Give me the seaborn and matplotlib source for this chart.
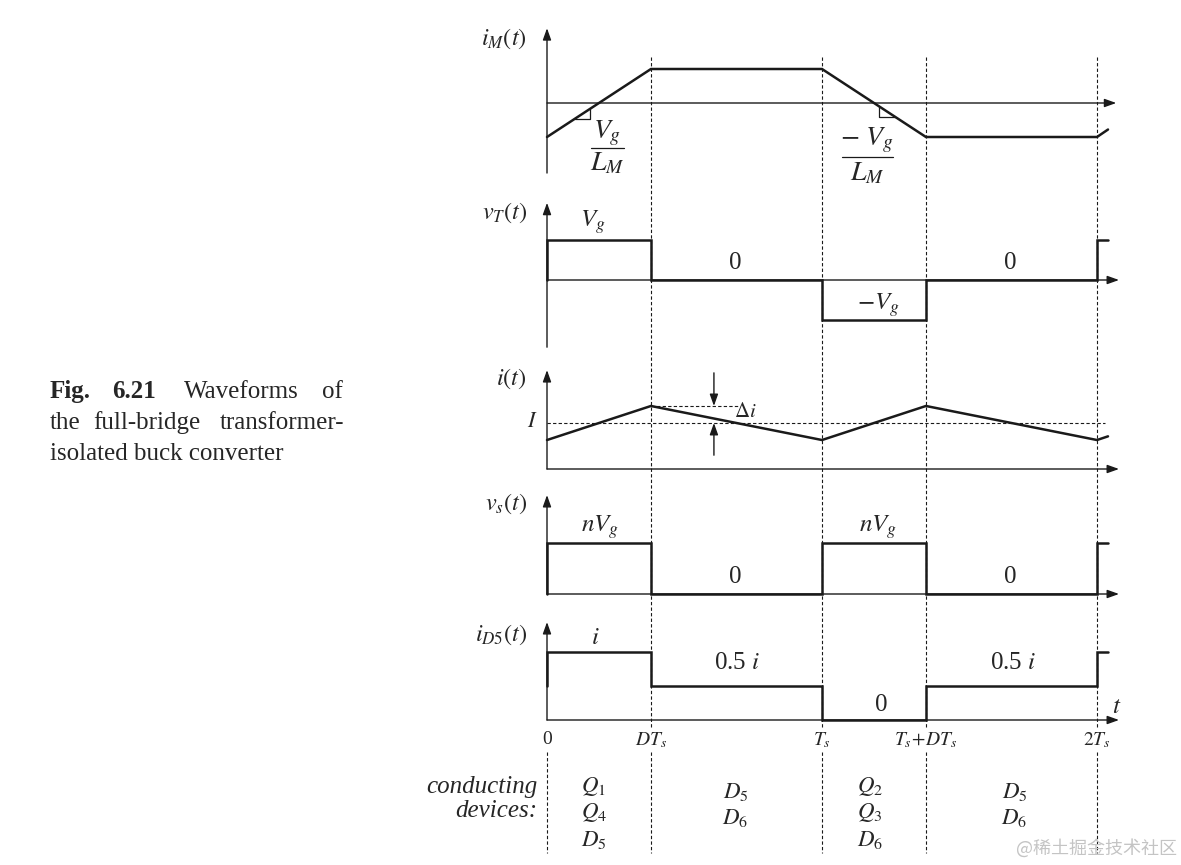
import numpy as np
import matplotlib
matplotlib.use("Agg")
import matplotlib.pyplot as plt
import seaborn as sns

sns.set_theme(style="white")
plt.rcParams['font.family'] = ['Liberation Serif', 'DejaVu Serif']
plt.rcParams['mathtext.fontset'] = 'stix'

# ---- data (time in units of Ts) ----
D = 0.378
t_marks = [0, D, 1, 1 + D, 2]
t_labels = ['0', '$DT_s$', '$T_s$', '$T_s\\!+\\!DT_s$', '$2T_s$']
t_end = 2.04

# magnetizing current i_M(t), corner points
t_im = [0, D, 1, 1 + D, 2, t_end]
im_vals = [-1, 1, 1, -1, -1, -0.78]

# transformer voltage v_T(t), one level per interval
vT_levels = [1, 0, -1, 0, 1]

# inductor current i(t), corner points
t_i = [0, D, 1, 1 + D, 2, t_end]
i_vals = [0.63, 1.37, 0.63, 1.37, 0.63, 0.71]
I_avg = 1.0

# secondary voltage v_s(t)
vs_levels = [1, 0, 1, 0, 1]

# diode current i_D5(t)
iD5_levels = [1, 0.5, 0, 0.5, 1]
iD5_start = 0.5

devices = [['$Q_1$', '$Q_4$', '$D_5$'],
           ['$D_5$', '$D_6$'],
           ['$Q_2$', '$Q_3$', '$D_6$'],
           ['$D_5$', '$D_6$']]
dev_t = [0.17, 0.685, 1.175, 1.70]


def step(levels, start=0.0):
    edges = t_marks + [t_end]
    xs, ys = [0.0], [start]
    for k, lv in enumerate(levels):
        xs += [edges[k], edges[k + 1]]
        ys += [lv, lv]
    return xs, ys


# ---- layout (pixels) ----
W, H = 1181, 865
X0, TS = 547, 275
L_px, R_px = 420, 1160

fig = plt.figure(figsize=(W / 100, H / 100), dpi=100)

# overlay for dashed guides and free text
ov = fig.add_axes([0, 0, 1, 1])
ov.set_xlim(-X0 / TS, (W - X0) / TS)
ov.set_ylim(H, 0)
ov.set_axis_off()

arrow_kw = dict(arrowstyle='-|>,head_length=0.7,head_width=0.25',
                mutation_scale=10, lw=1.0, color='k', shrinkA=0, shrinkB=0)


def panel(top, bot, zero, ppu):
    ax = fig.add_axes([L_px / W, 1 - bot / H, (R_px - L_px) / W, (bot - top) / H])
    ax.set_xlim((L_px - X0) / TS, (R_px - X0) / TS)
    ax.set_ylim((zero - bot) / ppu, (zero - top) / ppu)
    ax.set_axis_off()
    ax.patch.set_alpha(0)
    return ax


def axes_arrows(ax, ybot, ytop, xend=2.08):
    ax.annotate('', xy=(0, ytop), xytext=(0, ybot), arrowprops=arrow_kw, annotation_clip=False)
    ax.annotate('', xy=(xend, 0), xytext=(0, 0), arrowprops=arrow_kw, annotation_clip=False)


def wave(ax, x, y):
    sns.lineplot(x=x, y=y, estimator=None, sort=False, color='k', lw=1.8,
                 solid_joinstyle='miter', ax=ax)


def fraction(ax, tc, t0, t1, y_num, y_bar, y_den, num, den):
    ax.text(tc, y_num, num, fontsize=20, ha='center', va='center')
    ax.plot([t0, t1], [y_bar, y_bar], color='k', lw=0.9)
    ax.text(tc, y_den, den, fontsize=20, ha='center', va='center')


dash = (0, (3, 2))
for t in t_marks[1:]:
    ov.plot([t, t], [57, 728], ls=dash, lw=0.8, color='k')
for t in t_marks:
    ov.plot([t, t], [752, 853], ls=dash, lw=0.8, color='k')

lab_kw = dict(fontsize=17.5, ha='right', va='center')
val_kw = dict(fontsize=18, ha='center', va='center')

# panel 1: i_M(t)
ax1 = panel(15, 185, 103, 34)
axes_arrows(ax1, -2.06, 2.2, xend=2.07)
wave(ax1, t_im, im_vals)
ax1.text(-0.073, 1.88, '$i_M(t)$', **lab_kw)
ta, tb = 0.102, 0.156
ya, yb = np.interp(ta, t_im, im_vals), np.interp(tb, t_im, im_vals)
ax1.plot([ta, tb, tb], [ya, ya, yb], color='k', lw=0.9)
ta, tb = 1.207, 1.265
ya, yb = np.interp(ta, t_im, im_vals), np.interp(tb, t_im, im_vals)
ax1.plot([ta, ta, tb], [ya, yb, yb], color='k', lw=0.9)
fraction(ax1, 0.218, 0.16, 0.28, -0.88, -1.32, -1.78, '$V_g$', '$L_M$')
fraction(ax1, 1.164, 1.073, 1.258, -1.09, -1.59, -2.08, '$-\\ V_g$', '$L_M$')

# panel 2: v_T(t)
ax2 = panel(195, 355, 280, 40)
axes_arrows(ax2, -1.68, 1.93)
x, y = step(vT_levels)
wave(ax2, x, y)
ax2.text(-0.073, 1.68, '$v_T(t)$', **lab_kw)
ax2.text(0.167, 1.45, '$V_g$', **val_kw)
ax2.text(0.684, 0.43, '0', **val_kw)
ax2.text(1.204, -0.62, '$-V_g$', **val_kw)
ax2.text(1.684, 0.43, '0', **val_kw)

# panel 3: i(t)
ax3 = panel(362, 480, 469, 46)
axes_arrows(ax3, 0, 2.15)
ax3.plot([0, 2.03], [I_avg, I_avg], ls=dash, lw=0.8, color='k')
ax3.plot([D, 0.70], [max(i_vals), max(i_vals)], ls=dash, lw=0.8, color='k')
wave(ax3, t_i, i_vals)
ax3.annotate('', xy=(0.607, max(i_vals)), xytext=(0.607, 2.09), arrowprops=arrow_kw)
ax3.annotate('', xy=(0.607, I_avg), xytext=(0.607, 0.30), arrowprops=arrow_kw)
ax3.text(0.68, 1.22, r'$\Delta i$', fontsize=15, ha='left', va='center')
ax3.text(-0.073, 1.96, '$i(t)$', **lab_kw)
ax3.text(-0.035, I_avg, '$I$', fontsize=16, ha='right', va='center')

# panel 4: v_s(t)
ax4 = panel(485, 605, 594, 51)
axes_arrows(ax4, 0, 1.94)
x, y = step(vs_levels)
wave(ax4, x, y)
ax4.text(-0.073, 1.76, '$v_s(t)$', **lab_kw)
ax4.text(0.193, 1.31, '$nV_g$', **val_kw)
ax4.text(1.204, 1.31, '$nV_g$', **val_kw)
ax4.text(0.684, 0.33, '0', **val_kw)
ax4.text(1.684, 0.33, '0', **val_kw)

# panel 5: i_D5(t)
ax5 = panel(612, 760, 720, 68)
axes_arrows(ax5, 0, 1.44)
x, y = step(iD5_levels, iD5_start)
wave(ax5, x, y)
ax5.text(-0.073, 1.25, '$i_{D5}(t)$', **lab_kw)
ax5.text(0.175, 1.21, '$i$', **val_kw)
ax5.text(0.69, 0.84, '0.5 $i$', **val_kw)
ax5.text(1.695, 0.84, '0.5 $i$', **val_kw)
ax5.text(1.215, 0.22, '0', **val_kw)
ax5.text(2.073, 0.19, '$t$', **val_kw)
for t, lab in zip(t_marks, t_labels):
    ax5.text(t, -0.29, lab, fontsize=14, ha='center', va='center')

# conducting devices
ov.text(-0.036, 787, 'conducting', fontsize=18, style='italic', ha='right', va='center')
ov.text(-0.036, 811, 'devices:', fontsize=18, style='italic', ha='right', va='center')
for t, col in zip(dev_t, devices):
    rows = [786, 813, 840] if len(col) == 3 else [792, 818]
    for yy, name in zip(rows, col):
        ov.text(t, yy, name, fontsize=16.5, ha='center', va='center')

# caption
cap = dict(fontsize=18, va='baseline')
fig.text(50 / W, 1 - 398 / H, 'Fig.', fontweight='bold', **cap)
fig.text(112 / W, 1 - 398 / H, '6.21', fontweight='bold', **cap)
fig.text(184 / W, 1 - 398 / H, 'Waveforms', **cap)
fig.text(322 / W, 1 - 398 / H, 'of', **cap)
fig.text(50 / W, 1 - 429 / H, 'the', **cap)
fig.text(93 / W, 1 - 429 / H, 'full-bridge', **cap)
fig.text(220 / W, 1 - 429 / H, 'transformer-', **cap)
fig.text(50 / W, 1 - 460 / H, 'isolated buck converter', **cap)

# watermark
fig.text(1177 / W, 1 - 848 / H, '@稀土掘金技术社区', fontsize=13, color='#c4c4c4',
         ha='right', va='center', family=['Noto Sans CJK SC', 'DejaVu Sans'])

fig.savefig('out.png', dpi=100)
